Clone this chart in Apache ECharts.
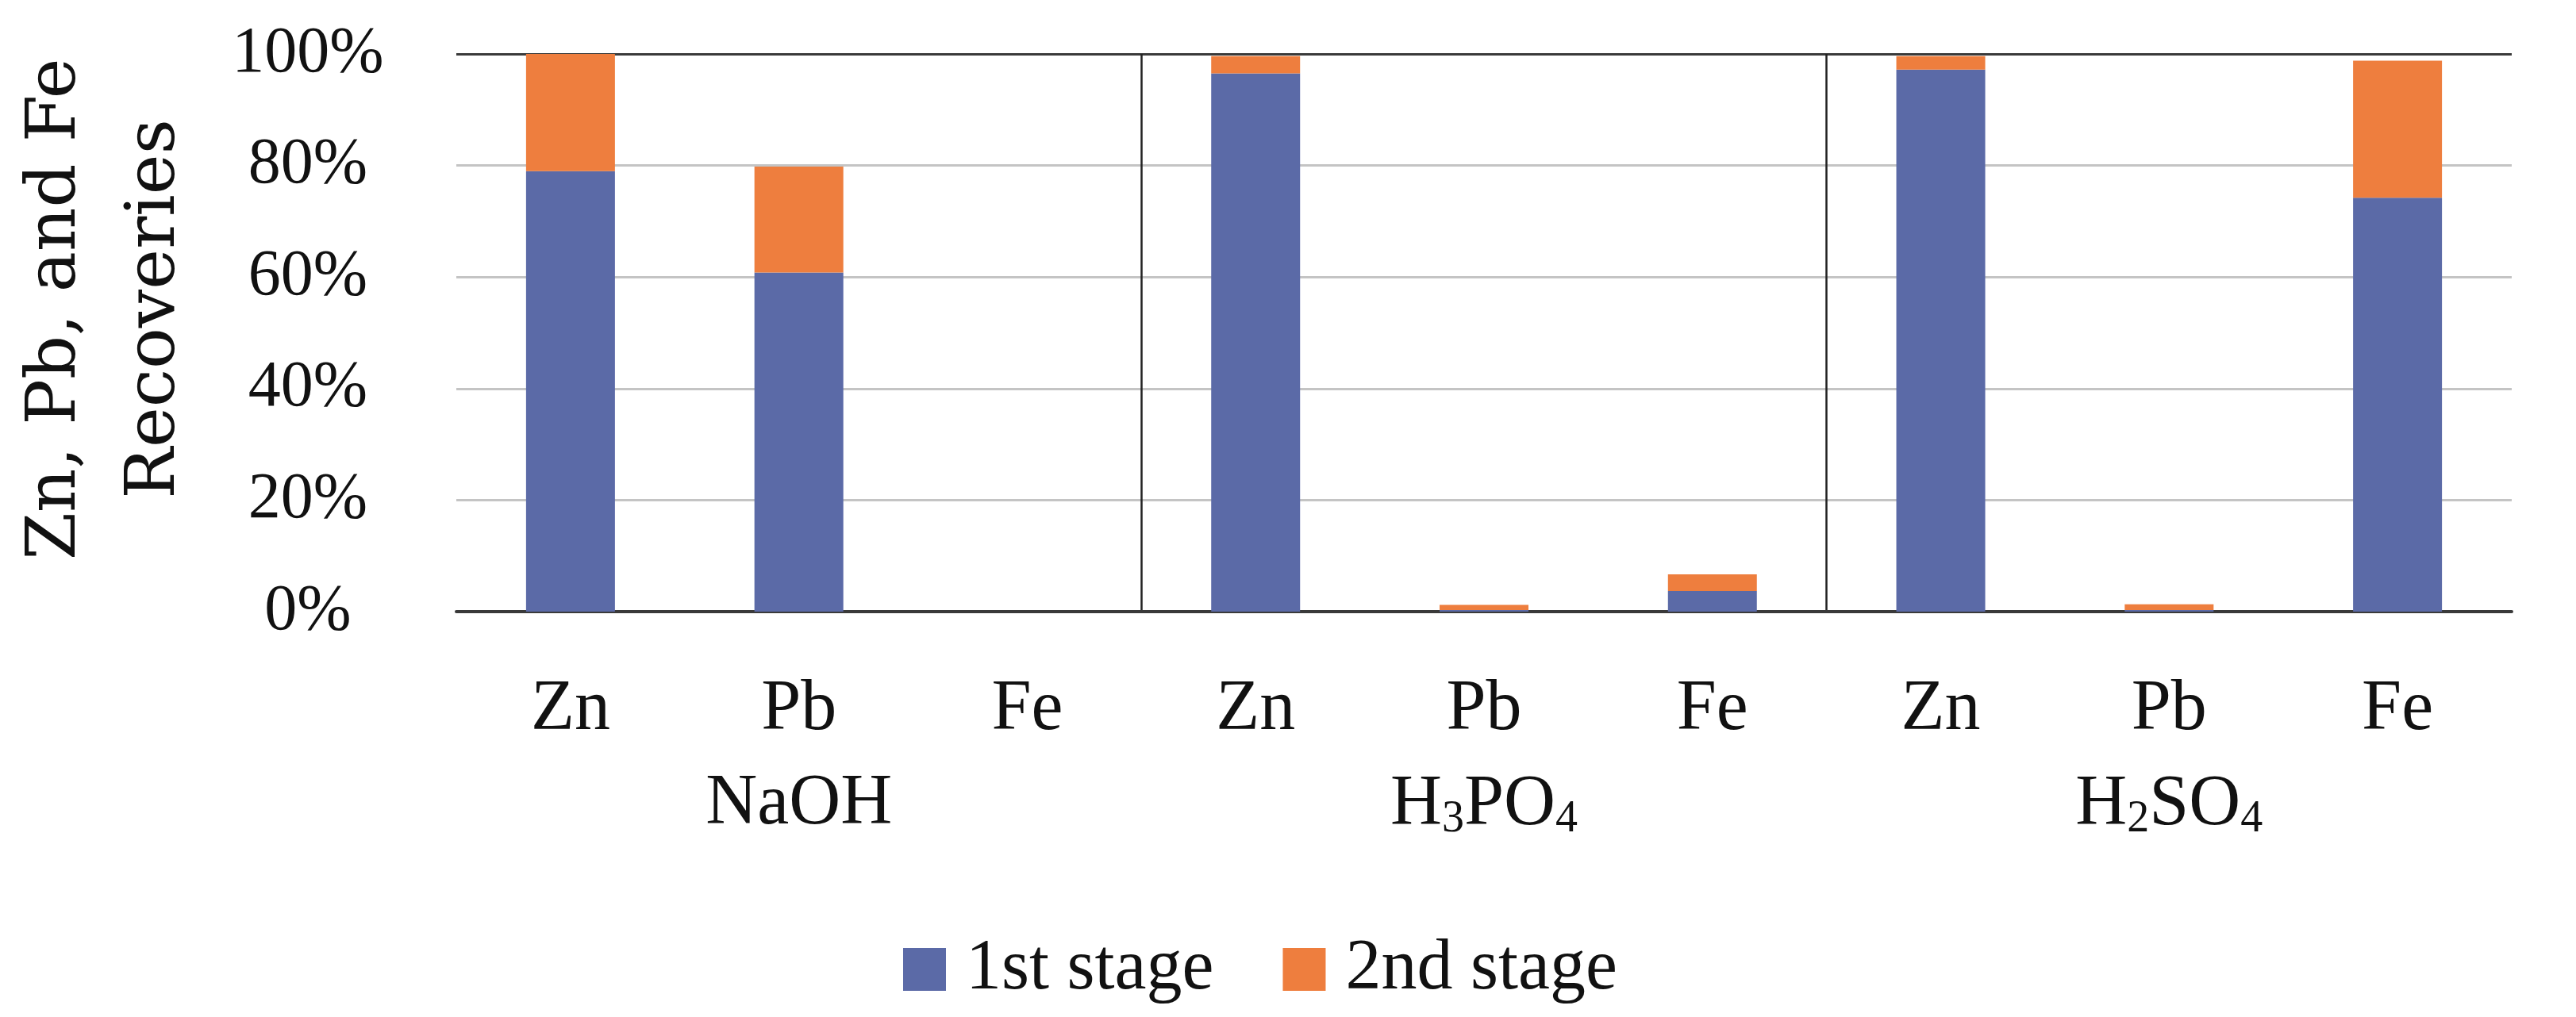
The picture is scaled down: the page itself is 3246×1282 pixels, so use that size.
<!DOCTYPE html>
<html>
<head>
<meta charset="utf-8">
<script src="https://cdn.jsdelivr.net/npm/echarts@6/dist/echarts.min.js"></script>
<style>
html,body{margin:0;padding:0;background:#fff;}
#chart{width:3246px;height:1282px;}
</style>
</head>
<body>
<div id="chart"></div>
<script>
const elements = ['Zn','Pb','Fe','Zn','Pb','Fe','Zn','Pb','Fe'];
const groups = ['NaOH','H{s|3}PO{s|4}','H{s|2}SO{s|4}'];
const stage1 = [79.0, 60.8, 0, 96.5, 0.3, 3.7, 97.2, 0.3, 74.2];
const stage2 = [21.0, 19.0, 0, 3.1, 0.9, 3.0, 2.4, 1.0, 24.6];
const yTicks = [0, 20, 40, 60, 80, 100];
const seriesNames = ['1st stage', '2nd stage'];

const serif = '"Liberation Serif", "Times New Roman", serif';
const chart = echarts.init(document.getElementById('chart'));
chart.setOption({
  animation: false,
  backgroundColor: '#ffffff',
  grid: {left: 575, right: 81, top: 68, bottom: 511, containLabel: false, outerBoundsMode: 'none'},
  legend: {
    left: 1133, top: 1172,
    itemWidth: 54, itemHeight: 54, itemGap: 87,
    icon: 'rect',
    textStyle: {fontFamily: serif, fontSize: 90, lineHeight: 54, color: '#111', padding: [0,0,0,20]},
    data: seriesNames
  },
  xAxis: [
    {
      type: 'category', data: elements, position: 'bottom',
      axisLine: {show: true, lineStyle: {color: '#3a3a3a', width: 4}},
      axisTick: {show: false},
      axisLabel: {fontFamily: serif, fontSize: 90, color: '#111', margin: 79},
      splitLine: {show: false}
    },
    {
      type: 'category', data: groups, position: 'bottom',
      axisLine: {show: false}, axisTick: {show: false},
      axisLabel: {
        fontFamily: serif, fontSize: 90, color: '#111', margin: 198,
        formatter: v => v,
        rich: {s: {fontFamily: serif, fontSize: 56, padding: [36,0,0,0], color: '#111'}}
      },
      splitLine: {show: true, lineStyle: {color: ['rgba(0,0,0,0)', '#222', '#222', 'rgba(0,0,0,0)'], width: 2.5}}
    }
  ],
  yAxis: {
    type: 'value', min: 0, max: 100, interval: 20,
    axisLine: {show: false}, axisTick: {show: false},
    axisLabel: {fontFamily: serif, fontSize: 82, color: '#111', formatter: '{value}%', align: 'center', margin: 187},
    splitLine: {show: true, lineStyle: {color: ['#3a3a3a','#c4c4c4','#c4c4c4','#c4c4c4','#c4c4c4','#3a3a3a'], width: 3}},
    name: 'Zn, Pb, and Fe\nRecoveries',
    nameLocation: 'middle', nameGap: 316, nameRotate: 90,
    nameTextStyle: {fontFamily: '"DejaVu Serif", serif', fontSize: 86, color: '#111', lineHeight: 125, padding: [0,0,0,60]}
  },
  series: [
    {name: seriesNames[0], type: 'bar', stack: 'a', data: stage1, barWidth: 112, itemStyle: {color: '#5B6AA7'}, xAxisIndex: 0},
    {name: seriesNames[1], type: 'bar', stack: 'a', data: stage2, barWidth: 112, itemStyle: {color: '#EE7E3E'}, xAxisIndex: 0}
  ]
});
</script>
</body>
</html>
